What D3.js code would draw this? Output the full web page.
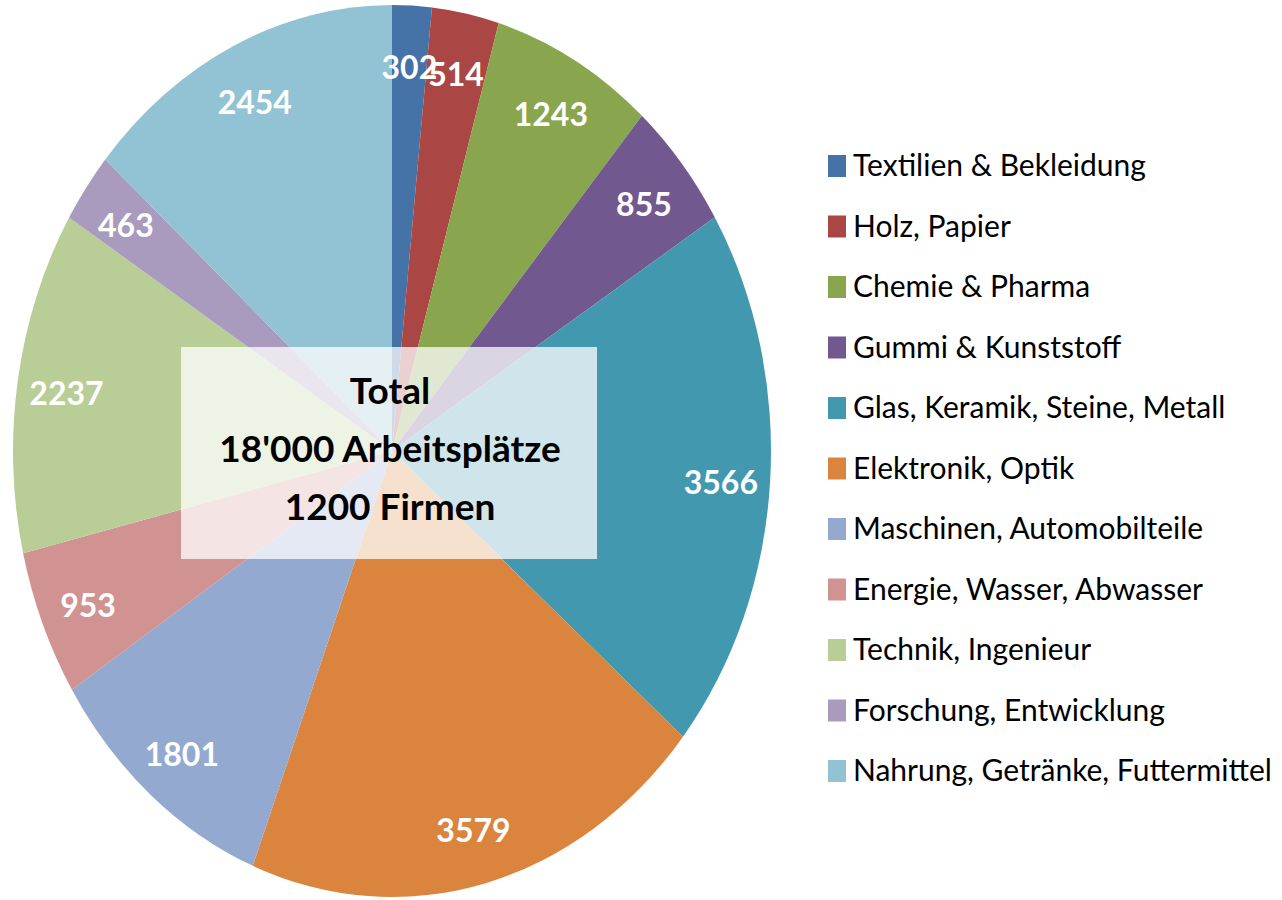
<!DOCTYPE html>
<html>
<head>
<meta charset="utf-8">
<script src="https://cdn.jsdelivr.net/npm/d3@7"></script>
<style>
  body { margin: 0; background: #fff; }
  svg { display: block; }
</style>
</head>
<body>
<div id="chart"></div>
<script>
// chart size
const width = 1282;
const height = 900;

// data: jobs per sector
const sectors = [
  "Textilien & Bekleidung",
  "Holz, Papier",
  "Chemie & Pharma",
  "Gummi & Kunststoff",
  "Glas, Keramik, Steine, Metall",
  "Elektronik, Optik",
  "Maschinen, Automobilteile",
  "Energie, Wasser, Abwasser",
  "Technik, Ingenieur",
  "Forschung, Entwicklung",
  "Nahrung, Getränke, Futtermittel"
];
const jobs = [302, 514, 1243, 855, 3566, 3579, 1801, 953, 2237, 463, 2454];
const sectorColors = ["#4572A7", "#AA4643", "#89A54E", "#71588F", "#4198AF", "#DB843D",
                      "#93A9CF", "#D19392", "#B9CD96", "#A99BBD", "#92C3D4"];
const centerLines = ["Total", "18'000 Arbeitsplätze", "1200 Firmen"];

// pie is drawn as an ellipse
const cx = 392, cy = 451;
const rx = 379, ry = 446;
const yStretch = ry / rx;

const svg = d3.select("#chart")
  .append("svg")
  .attr("width", width)
  .attr("height", height);

const color = d3.scaleOrdinal().domain(sectors).range(sectorColors);

const pie = d3.pie().sort(null).value(d => d.value);
const arcs = pie(sectors.map((s, i) => ({name: s, value: jobs[i]})));

const arc = d3.arc().innerRadius(0).outerRadius(rx);
const labelArc = d3.arc().innerRadius(rx * 0.87).outerRadius(rx * 0.87);

// slices
svg.append("g")
  .attr("transform", `translate(${cx},${cy}) scale(1,${yStretch})`)
  .selectAll("path")
  .data(arcs)
  .enter()
  .append("path")
    .attr("d", arc)
    .attr("fill", d => color(d.data.name));

// value labels
svg.append("g")
  .selectAll("text")
  .data(arcs)
  .enter()
  .append("text")
    .attr("x", d => cx + labelArc.centroid(d)[0])
    .attr("y", d => cy + labelArc.centroid(d)[1] * yStretch + 3)
    .attr("text-anchor", "middle")
    .attr("dominant-baseline", "central")
    .attr("font-family", "Lato, sans-serif")
    .attr("font-weight", "bold")
    .attr("font-size", "32px")
    .attr("fill", "#fff")
    .text(d => d.data.value);

// white box in the middle
svg.append("rect")
  .attr("x", 181)
  .attr("y", 347)
  .attr("width", 416)
  .attr("height", 212)
  .attr("fill", "#fff")
  .attr("fill-opacity", 0.75);

svg.append("g")
  .selectAll("text")
  .data(centerLines)
  .enter()
  .append("text")
    .attr("x", 390)
    .attr("y", (d, i) => 389 + i * 58)
    .attr("text-anchor", "middle")
    .attr("dominant-baseline", "central")
    .attr("font-family", "Lato, sans-serif")
    .attr("font-weight", "bold")
    .attr("font-size", "37px")
    .attr("fill", "#000")
    .text(d => d);

// legend
const legend = svg.append("g")
  .selectAll("g")
  .data(sectors)
  .enter()
  .append("g")
    .attr("transform", (d, i) => `translate(828,${155 + i * 60.5})`);

legend.append("rect")
  .attr("width", 18)
  .attr("height", 22)
  .attr("fill", d => color(d));

legend.append("text")
  .attr("x", 25)
  .attr("y", 21)
  .attr("font-family", "Lato, sans-serif")
  .attr("font-size", "30px")
  .attr("fill", "#000")
  .text(d => d);
</script>
</body>
</html>
